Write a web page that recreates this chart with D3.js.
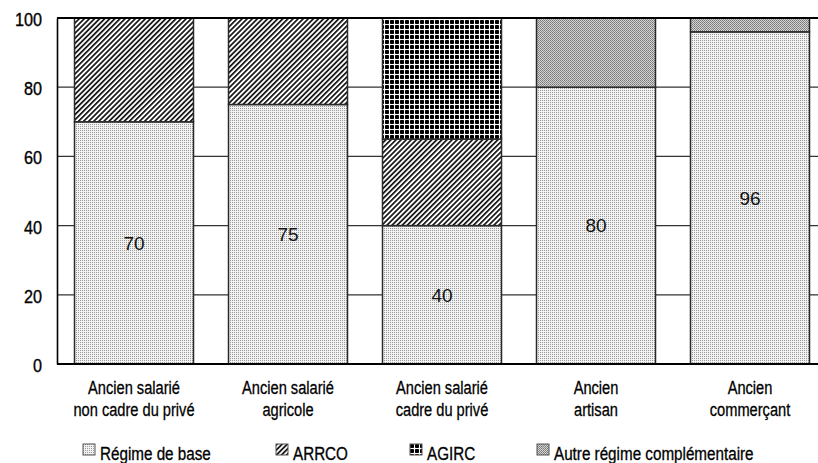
<!DOCTYPE html>
<html>
<head>
<meta charset="utf-8">
<script src="https://cdn.jsdelivr.net/npm/d3@7"></script>
<style>
    body { margin: 0; background: #fff; }
    svg { display: block; }
</style>
</head>
<body>
<script>
// catégories
const categories = [
    'Ancien salarié\nnon cadre du privé',
    'Ancien salarié\nagricole',
    'Ancien salarié\ncadre du privé',
    'Ancien\nartisan',
    'Ancien\ncommerçant'
];

// séries (en %)
const seriesNames = ['Régime de base', 'ARRCO', 'AGIRC', 'Autre régime complémentaire'];
const regimeBase = [70, 75, 40, 80, 96];
const arrco = [30, 25, 25, 0, 0];
const agirc = [0, 0, 35, 0, 0];
const autre = [0, 0, 0, 20, 4];

// valeurs affichées dans les barres
const baseLabels = [70, 75, 40, 80, 96];

// graduations
const yTicks = [0, 20, 40, 60, 80, 100];

const width = 818;
const height = 463;
const margin = { top: 18, right: -9, bottom: 99, left: 57 };

const svg = d3.select('body')
    .append('svg')
    .attr('width', width)
    .attr('height', height);

// police étroite simulée : Liberation Sans compressée horizontalement
const font = "'Liberation Sans', Arial, sans-serif";

// motifs
const defs = svg.append('defs');

const pBase = defs.append('pattern').attr('id', 'p-base')
    .attr('patternUnits', 'userSpaceOnUse').attr('width', 2).attr('height', 2);
pBase.append('rect').attr('width', 2).attr('height', 2).attr('fill', '#f2f2f2');
pBase.append('rect').attr('width', 1).attr('height', 1).attr('fill', '#9a9a9a');

const pArrco = defs.append('pattern').attr('id', 'p-arrco')
    .attr('patternUnits', 'userSpaceOnUse').attr('width', 3.6).attr('height', 3.6)
    .attr('patternTransform', 'rotate(45)');
pArrco.append('rect').attr('width', 3.6).attr('height', 3.6).attr('fill', '#fff');
pArrco.append('rect').attr('width', 1.7).attr('height', 3.6).attr('fill', '#111');

const pAgirc = defs.append('pattern').attr('id', 'p-agirc')
    .attr('patternUnits', 'userSpaceOnUse').attr('width', 5).attr('height', 5);
pAgirc.append('rect').attr('width', 5).attr('height', 5).attr('fill', '#fff');
pAgirc.append('rect').attr('x', 0).attr('y', 0).attr('width', 4).attr('height', 4)
    .attr('rx', 0.8).attr('fill', '#000');

const pAutre = defs.append('pattern').attr('id', 'p-autre')
    .attr('patternUnits', 'userSpaceOnUse').attr('width', 2).attr('height', 2);
pAutre.append('rect').attr('width', 2).attr('height', 2).attr('fill', '#d4d4d4');
pAutre.append('rect').attr('width', 1).attr('height', 1).attr('fill', '#777');
pAutre.append('rect').attr('x', 1).attr('y', 1).attr('width', 1).attr('height', 1).attr('fill', '#8a8a8a');

const fills = ['url(#p-base)', 'url(#p-arrco)', 'url(#p-agirc)', 'url(#p-autre)'];

// échelles
const xScale = d3.scaleBand()
    .domain(categories)
    .range([margin.left, width - margin.right])
    .paddingInner(35 / 154)
    .paddingOuter(17.5 / 154);

const yScale = d3.scaleLinear()
    .domain([0, 100])
    .range([height - margin.bottom, margin.top]);

// grille
svg.append('g')
    .selectAll('line')
    .data(yTicks.filter(d => d > 0 && d < 100))
    .enter()
    .append('line')
    .attr('x1', margin.left)
    .attr('x2', width)
    .attr('y1', d => yScale(d))
    .attr('y2', d => yScale(d))
    .attr('stroke', '#333')
    .attr('stroke-width', 1.3);

// données empilées
const table = categories.map((c, i) => ({
    cat: c,
    s0: regimeBase[i],
    s1: arrco[i],
    s2: agirc[i],
    s3: autre[i]
}));
const stack = d3.stack().keys(['s0', 's1', 's2', 's3']);
const stacked = stack(table);

svg.append('g')
    .selectAll('g')
    .data(stacked)
    .enter()
    .append('g')
    .attr('fill', (d, i) => fills[i])
    .selectAll('rect')
    .data(d => d.filter(v => v[1] - v[0] > 0))
    .enter()
    .append('rect')
    .attr('x', d => xScale(d.data.cat))
    .attr('y', d => yScale(d[1]))
    .attr('width', xScale.bandwidth())
    .attr('height', d => yScale(d[0]) - yScale(d[1]))
    .attr('stroke', '#2a2a2a')
    .attr('stroke-width', 1.5);

// valeurs
svg.append('g')
    .selectAll('text')
    .data(baseLabels)
    .enter()
    .append('text')
    .attr('x', (d, i) => xScale(categories[i]) + xScale.bandwidth() / 2)
    .attr('y', (d, i) => yScale(regimeBase[i] / 2))
    .attr('dy', '0.36em')
    .attr('text-anchor', 'middle')
    .attr('font-family', font)
    .attr('font-size', 19)
    .attr('fill', '#111')
    .text(d => d);

// axe y (libellés dessinés à part pour pouvoir les compresser)
const yAxis = d3.axisLeft(yScale)
    .tickValues(yTicks)
    .tickSize(0)
    .tickFormat('');

const gy = svg.append('g')
    .attr('transform', 'translate(' + margin.left + ', 0)')
    .call(yAxis);
gy.select('.domain').attr('stroke', '#000').attr('stroke-width', 1.6);

svg.append('g')
    .selectAll('g')
    .data(yTicks)
    .enter()
    .append('g')
    .attr('transform', d => 'translate(42, ' + (yScale(d) + 8) + ') scale(0.9, 1)')
    .append('text')
    .attr('text-anchor', 'end')
    .attr('font-family', font)
    .attr('font-size', 18)
    .attr('fill', '#000')
    .attr('stroke', '#000')
    .attr('stroke-width', 0.35)
    .text(d => d);

// ligne du haut et ligne zéro
svg.append('g')
    .selectAll('line')
    .data([0, 100])
    .enter()
    .append('line')
    .attr('x1', margin.left)
    .attr('x2', width)
    .attr('y1', d => yScale(d))
    .attr('y2', d => yScale(d))
    .attr('stroke', '#000')
    .attr('stroke-width', 2);

// étiquettes x
const xLabels = svg.append('g')
    .selectAll('g')
    .data(categories)
    .enter()
    .append('g')
    .attr('transform', d => 'translate(' + (xScale(d) + xScale.bandwidth() / 2) + ', ' + (yScale(0) + 30) + ') scale(0.77, 1)')
    .append('text')
    .attr('text-anchor', 'middle')
    .attr('font-family', font)
    .attr('font-size', 19)
    .attr('fill', '#000')
    .attr('stroke', '#000')
    .attr('stroke-width', 0.3);
xLabels.selectAll('tspan')
    .data(d => d.split('\n'))
    .enter()
    .append('tspan')
    .attr('x', 0)
    .attr('dy', (d, i) => i === 0 ? 0 : 22)
    .text(d => d);

// légende
const legendX = [83, 276, 410, 537];
const legend = svg.append('g')
    .selectAll('g')
    .data(seriesNames)
    .enter()
    .append('g')
    .attr('transform', (d, i) => 'translate(' + legendX[i] + ', 444)');
legend.append('rect')
    .attr('width', 12)
    .attr('height', 11)
    .attr('fill', (d, i) => fills[i])
    .attr('stroke', '#555')
    .attr('stroke-width', 1);
legend.append('g')
    .attr('transform', 'translate(17, 16) scale(0.87, 1)')
    .append('text')
    .attr('font-family', font)
    .attr('font-size', 17.5)
    .attr('fill', '#000')
    .attr('stroke', '#000')
    .attr('stroke-width', 0.3)
    .text(d => d);
</script>
</body>
</html>
